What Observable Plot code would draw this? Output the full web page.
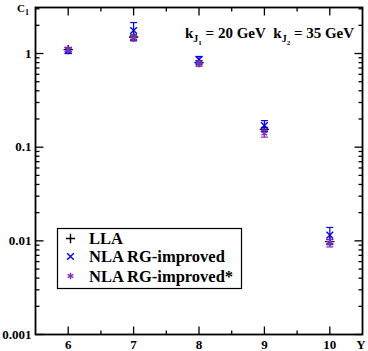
<!DOCTYPE html>
<html>
<head>
<meta charset="utf-8">
<script src="https://cdn.jsdelivr.net/npm/d3@7"></script>
<script src="https://cdn.jsdelivr.net/npm/@observablehq/plot@0.6"></script>
<style>
  html, body { margin: 0; padding: 0; background: #fff; }
  #chart svg { display: block; }
</style>
</head>
<body>
<div id="chart"></div>
<script>
// ---- data ----
const rapidity = [6, 7, 8, 9, 10];
const llaValues = [1.1, 1.5, 0.8, 0.155, 0.0098];
const llaErrors = [0.05, 0.08, 0.04, 0.008, 0.0005];
const nlaValues = [1.08, 1.76, 0.86, 0.17, 0.0115];
const nlaErrors = [0.08, 0.38, 0.07, 0.022, 0.0024];
const nlaStarValues = [1.1, 1.46, 0.78, 0.14, 0.0095];
const nlaStarErrors = [0.06, 0.1, 0.05, 0.012, 0.0009];
const seriesNames = ["LLA", "NLA RG-improved", "NLA RG-improved*"];
const seriesColors = ["#000000", "#0000ff", "#8030c0"];
const seriesSymbols = ["plus", "times", "asterisk"];
const xTicks = [6, 7, 8, 9, 10];
const xMinorTicks = [6.5, 7.5, 8.5, 9.5];
const yTicks = [0.001, 0.01, 0.1, 1];
const yTickLabels = ["0.001", "0.01", "0.1", "1"];
const yMinorTicks = [2,3,4,5,6,7,8,9].flatMap(m => [0.001, 0.01, 0.1, 1].map(d => m * d)).filter(v => v < 3.1);
const energyJ1 = "20 GeV";
const energyJ2 = "35 GeV";

// ---- table ----
const allValues = [llaValues, nlaValues, nlaStarValues];
const allErrors = [llaErrors, nlaErrors, nlaStarErrors];
const rows = seriesNames.flatMap((s, i) => rapidity.map((x, j) => ({
  series: s, x, y: allValues[i][j], lo: allValues[i][j] - allErrors[i][j], hi: allValues[i][j] + allErrors[i][j]
})));

const capSymbol = {
  draw(ctx, size) {
    const r = Math.sqrt(size / Math.PI);
    ctx.moveTo(-r, 0); ctx.lineTo(r, 0);
  }
};
// tick symbols: length = r (pixels), drawn inward from the frame edge
const tickSym = (dx, dy) => ({
  draw(ctx, size) {
    const L = Math.sqrt(size / Math.PI);
    ctx.moveTo(0, 0); ctx.lineTo(dx * L, dy * L);
  }
});
const up = tickSym(0, -1), down = tickSym(0, 1), right = tickSym(1, 0), left = tickSym(-1, 0);

const markerR = 3.1;
const marks = [];
seriesNames.forEach((s, i) => {
  const d = rows.filter(r => r.series === s);
  marks.push(Plot.ruleX(d, {x: "x", y1: "lo", y2: "hi", stroke: seriesColors[i], strokeWidth: 1.2}));
  marks.push(Plot.dot(d, {x: "x", y: "lo", symbol: capSymbol, r: 3.5, stroke: seriesColors[i], strokeWidth: 1.2}));
  marks.push(Plot.dot(d, {x: "x", y: "hi", symbol: capSymbol, r: 3.5, stroke: seriesColors[i], strokeWidth: 1.2}));
  marks.push(Plot.dot(d, {x: "x", y: "y", symbol: seriesSymbols[i], r: markerR, stroke: seriesColors[i], strokeWidth: 1.4}));
});

const tickMarks = [
  Plot.dot(xTicks, {x: d => d, frameAnchor: "bottom", symbol: up, r: 8, stroke: "#000", strokeWidth: 1.3}),
  Plot.dot(xTicks, {x: d => d, frameAnchor: "top", symbol: down, r: 8, stroke: "#000", strokeWidth: 1.3}),
  Plot.dot(xMinorTicks, {x: d => d, frameAnchor: "bottom", symbol: up, r: 4, stroke: "#000", strokeWidth: 1.3}),
  Plot.dot(xMinorTicks, {x: d => d, frameAnchor: "top", symbol: down, r: 4, stroke: "#000", strokeWidth: 1.3}),
  Plot.dot(yTicks, {y: d => d, frameAnchor: "left", symbol: right, r: 8, stroke: "#000", strokeWidth: 1.3}),
  Plot.dot(yTicks, {y: d => d, frameAnchor: "right", symbol: left, r: 8, stroke: "#000", strokeWidth: 1.3}),
  Plot.dot(yMinorTicks, {y: d => d, frameAnchor: "left", symbol: right, r: 4, stroke: "#000", strokeWidth: 1.3}),
  Plot.dot(yMinorTicks, {y: d => d, frameAnchor: "right", symbol: left, r: 4, stroke: "#000", strokeWidth: 1.3})
];

const plot = Plot.plot({
  width: 368,
  height: 351,
  marginLeft: 35,
  marginRight: 6,
  marginTop: 7,
  marginBottom: 17,
  style: {fontFamily: "'Liberation Serif', 'DejaVu Serif', serif", fontSize: "13px", fontWeight: "bold", color: "#000", background: "#fff"},
  x: {domain: [5.5, 10.5], label: null},
  y: {type: "log", domain: [0.001, 3.1], label: null},
  marks: [
    ...marks,
    ...tickMarks,
    Plot.axisX(xTicks, {anchor: "bottom", tickSize: 0, tickPadding: 5, tickFormat: d => String(d)}),
    Plot.axisY(yTicks, {anchor: "left", tickSize: 0, tickPadding: 4, tickFormat: d => yTickLabels[yTicks.indexOf(d)]}),
    Plot.frame({stroke: "#000", strokeWidth: 1.8})
  ]
});
document.getElementById("chart").appendChild(plot);

// ---- annotations and legend ----
const svg = d3.select(plot);
const font = "'Liberation Serif', 'DejaVu Serif', serif";

// y-axis label C1
const cl = svg.append("text").attr("x", 17).attr("y", 12).attr("text-anchor", "start").attr("font-family", font).attr("font-weight", "bold").attr("font-size", 11).attr("fill", "#000");
cl.append("tspan").text("C");
cl.append("tspan").attr("font-size", 8).attr("dy", 3).text("1");

// x-axis label Y
svg.append("text").attr("x", 361).attr("y", 349).attr("text-anchor", "middle").attr("font-family", font).attr("font-weight", "bold").attr("font-size", 13).attr("fill", "#000").text("Y");

// kinematics annotation
const ann = svg.append("text").attr("x", 185).attr("y", 38).attr("text-anchor", "start").attr("font-family", font).attr("font-weight", "bold").attr("font-size", 15).attr("fill", "#000");
ann.append("tspan").text("k");
ann.append("tspan").attr("font-size", 10).attr("dy", 4).text("J");
ann.append("tspan").attr("font-size", 7).attr("dy", 3).text("1");
ann.append("tspan").attr("dy", -7).text(" = " + energyJ1 + "\u00a0\u00a0k");
ann.append("tspan").attr("font-size", 10).attr("dy", 4).text("J");
ann.append("tspan").attr("font-size", 7).attr("dy", 3).text("2");
ann.append("tspan").attr("dy", -7).text(" = " + energyJ2);

// legend
const lg = svg.append("g");
lg.append("rect").attr("x", 57.5).attr("y", 228.5).attr("width", 184).attr("height", 60).attr("fill", "#fff").attr("stroke", "#000").attr("stroke-width", 1.2);
const d3Symbols = {plus: d3.symbolPlus, times: d3.symbolTimes, asterisk: d3.symbolAsterisk};
const rowY = [238.5, 256.5, 276];
seriesNames.forEach((s, i) => {
  lg.append("path").attr("transform", `translate(70.5,${rowY[i]})`)
    .attr("d", d3.symbol(d3Symbols[seriesSymbols[i]], markerR * markerR * Math.PI)())
    .attr("fill", "none").attr("stroke", seriesColors[i]).attr("stroke-width", 1.4);
  lg.append("text").attr("x", 89).attr("y", rowY[i] + 5.5).attr("text-anchor", "start").attr("font-family", font).attr("font-weight", "bold").attr("font-size", 16.5).attr("fill", "#000").text(s);
});
</script>
</body>
</html>
